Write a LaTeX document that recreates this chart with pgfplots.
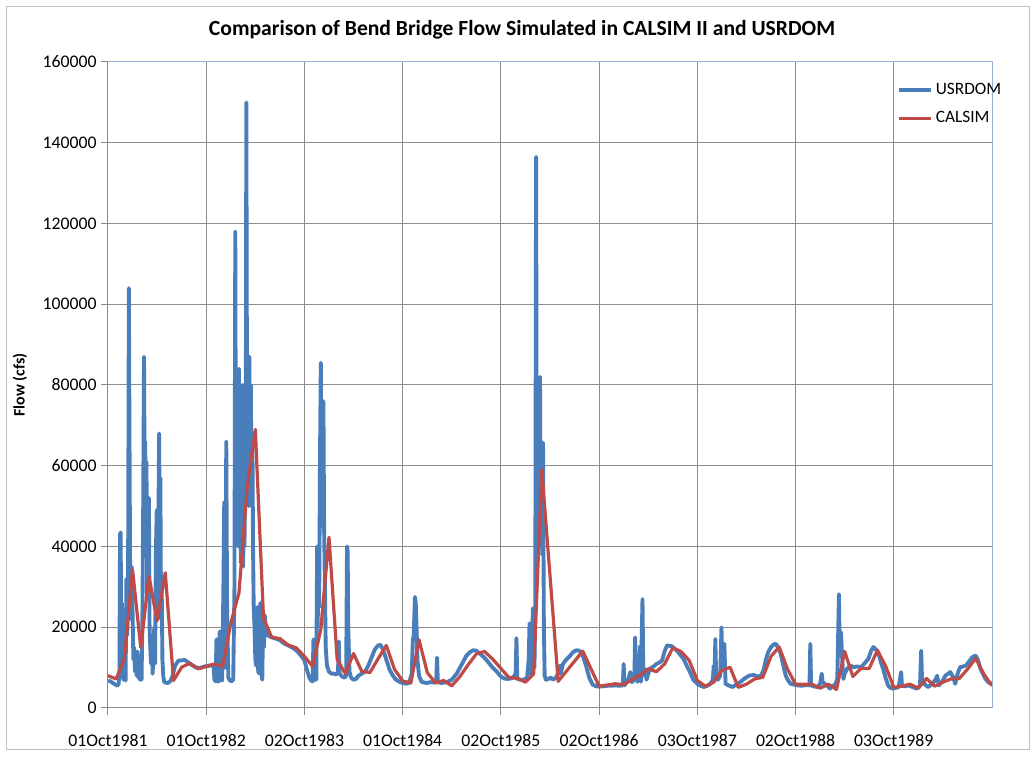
\documentclass[border=0pt]{standalone}
\usepackage{fontspec}
\setmainfont{Carlito}
\usepackage{pgfplots}
\usepackage{pgfplotstable}
\pgfplotsset{compat=1.18}
\definecolor{usr}{HTML}{4A7EBB}
\definecolor{cal}{HTML}{BE4B48}
\definecolor{gridc}{HTML}{8C8C8C}
\definecolor{bord}{HTML}{95B3D7}

\pgfplotstableread{
x y
0 8000
1 7200
2 12300
3 34200
4 15000
5 32600
6 21600
7 33500
8 6800
9 10100
10 11100
11 9700
12 10300
13 10900
14 10300
15 21000
16 28500
17 54500
18 69000
19 22200
20 17500
21 17200
22 15600
23 14900
24 12800
25 10300
26 19500
27 42300
28 12000
29 8500
30 13500
31 9100
32 8800
33 12200
34 15500
35 9600
36 6700
37 6200
38 16900
39 8800
40 6200
41 6800
42 5500
43 7800
44 10700
45 13400
46 14000
47 12100
48 9800
49 7500
50 7350
51 6400
52 8400
53 59000
55 6600
58 14100
60 5400
62 6000
63 5800
64 7000
65 8100
66 9700
67 9000
68 10900
69 14900
70 14000
71 11800
72 6800
73 5400
74 6400
75 9300
76 10100
77 5100
78 5900
79 7200
80 7600
81 12800
82 15100
83 9700
84 5900
85 5900
86 5900
87 4900
88 5900
89 4600
90 14000
91 7800
92 9800
93 9800
94 14300
95 10400
96 5100
97 5400
98 5900
99 4900
100 7300
101 5400
102 6400
103 7200
104 7300
105 9600
106 12300
107 8400
108 5500
}\calsim

\pgfplotstableread{
x y
0.0 6800
0.3 6600
0.6 6200
0.9 5800
1.15 5500
1.3 6000
1.4 9000
1.47 43000
1.55 43500
1.62 12000
1.7 26000
1.78 8000
1.9 7000
2.05 7500
2.15 6800
2.25 32000
2.35 18000
2.45 30000
2.55 104000
2.62 70000
2.7 35000
2.8 22000
2.9 35000
3.0 24000
3.1 12000
3.2 15000
3.3 9000
3.4 11000
3.5 8000
3.6 14000
3.7 7500
3.8 10000
3.9 7000
4.0 8500
4.1 7000
4.2 22000
4.3 50000
4.4 87000
4.48 55000
4.55 66000
4.62 40000
4.7 61000
4.78 28000
4.85 52000
4.92 33000
5.0 52000
5.08 20000
5.15 16000
5.25 11000
5.35 17000
5.45 8500
5.55 13000
5.65 20000
5.75 11000
5.85 38000
5.95 49000
6.05 24000
6.15 45000
6.25 68000
6.32 38000
6.4 57000
6.48 22000
6.56 30000
6.65 12000
6.75 8000
6.85 6600
7.0 6300
7.3 6200
7.6 6600
7.9 8000
8.2 10500
8.6 11700
9.0 11800
9.4 11900
9.8 11300
10.2 10700
10.6 10200
11.0 9900
11.4 10000
11.8 10300
12.2 10400
12.6 10600
12.9 10300
13.0 7000
13.15 6600
13.25 17000
13.35 7000
13.5 6500
13.65 19000
13.75 7000
13.95 6800
14.1 30000
14.2 51000
14.3 10000
14.45 66000
14.55 25000
14.7 7500
14.9 6800
15.1 6600
15.3 7000
15.45 30000
15.55 118000
15.62 60000
15.7 82000
15.78 46000
15.85 70000
15.92 40000
16.0 84000
16.08 43000
16.15 75000
16.22 36000
16.3 60000
16.38 45000
16.45 80000
16.52 35000
16.6 57000
16.68 40000
16.75 70000
16.82 50000
16.9 150000
16.97 88000
17.05 60000
17.12 80000
17.2 50000
17.28 87000
17.35 56000
17.45 80000
17.55 50000
17.65 65000
17.72 40000
17.8 25000
17.9 20000
18.0 12000
18.1 10500
18.25 25000
18.35 9000
18.5 8500
18.6 26000
18.72 9000
18.85 7000
18.95 22500
19.05 15000
19.15 23000
19.3 19000
19.5 18000
20.0 17500
20.5 17200
21.0 16800
21.5 16000
22.0 15500
22.5 15000
23.0 14300
23.5 13200
24.0 11800
24.3 9500
24.6 7500
24.8 6800
25.0 6600
25.1 17000
25.2 7000
25.45 7000
25.55 40000
25.62 20000
25.72 40000
25.8 25000
25.9 62000
26.0 85500
26.08 45000
26.15 65000
26.25 50000
26.32 76000
26.4 45000
26.5 30000
26.6 15000
26.75 10500
27.0 9000
27.3 8500
27.6 8500
27.9 8300
28.1 9000
28.2 16500
28.3 8500
28.6 7800
28.9 7500
29.1 8000
29.2 40000
29.28 39000
29.35 20000
29.5 9000
29.7 7500
30.0 7000
30.3 7200
30.6 8000
31.0 8500
31.4 9000
31.8 10500
32.2 12500
32.6 14500
33.0 15500
33.3 15600
33.6 14500
34.0 12000
34.4 9500
34.8 8000
35.2 7000
35.6 6500
36.0 6200
36.4 6000
36.8 6300
37.1 8500
37.25 17000
37.35 18000
37.5 27500
37.6 26000
37.7 20000
37.8 12000
38.0 8000
38.3 6500
38.6 6300
39.0 6200
39.4 6400
39.9 6300
40.1 6500
40.2 12500
40.3 6400
40.7 6200
41.1 6300
41.5 6500
42.0 7000
42.6 8500
43.0 10000
43.4 11500
43.8 13000
44.2 13800
44.6 14300
45.0 14200
45.4 13500
45.8 12800
46.2 12000
46.6 11000
47.0 10000
47.5 9000
48.0 7800
48.4 7300
48.8 7200
49.2 7300
49.6 7800
49.8 8500
49.9 17300
50.0 7200
50.4 7000
50.8 7000
51.2 7500
51.4 12000
51.5 21000
51.6 8500
51.8 9500
51.9 24700
52.0 12000
52.1 10000
52.2 25000
52.3 136500
52.38 60000
52.45 76000
52.52 40000
52.6 74000
52.68 45000
52.78 82000
52.86 40000
52.95 66000
53.05 38000
53.15 65700
53.25 20000
53.35 8000
53.5 7000
53.8 7200
54.1 7500
54.4 7000
54.7 7500
55.0 8500
55.2 10500
55.3 8500
55.6 11000
56.0 12000
56.4 12800
56.8 13800
57.2 14300
57.6 14200
58.0 13000
58.4 10500
58.8 7500
59.2 5800
59.6 5400
60.0 5300
60.5 5400
61.0 5500
61.5 5500
62.0 5600
62.5 5500
62.9 5600
63.0 10900
63.1 5600
63.4 6500
63.6 7200
63.8 8900
64.0 6400
64.3 7000
64.4 17500
64.5 9700
64.7 6500
64.9 8000
65.0 15300
65.1 6500
65.3 27000
65.4 8000
65.6 9700
65.8 7000
66.0 8500
66.2 9700
66.6 10200
67.0 10900
67.4 11300
67.7 11800
68.0 14000
68.3 15500
68.9 15300
69.5 14200
69.9 13200
70.3 12200
70.7 10500
71.1 8900
71.5 7000
72.0 6000
72.4 5500
72.8 5200
73.2 5500
73.6 6000
73.9 7000
74.0 10500
74.1 8000
74.2 17100
74.3 7500
74.5 7000
74.8 8000
74.95 20000
75.05 10000
75.2 10500
75.3 15900
75.45 6000
75.8 5600
76.3 5200
76.9 6000
77.3 6500
77.7 7200
78.3 8000
78.9 8200
79.3 7800
79.8 8000
80.1 9500
80.4 12200
80.7 14000
81.0 15100
81.3 15700
81.6 15900
81.9 14800
82.2 13400
82.5 10500
82.8 8000
83.1 6800
83.4 6000
83.8 5800
84.3 5600
84.8 5500
85.3 5700
85.7 5600
85.8 15900
85.9 5600
86.3 5300
86.7 5200
87.0 6000
87.2 8500
87.3 6400
87.6 6000
88.0 5200
88.2 4800
88.5 5500
88.8 5600
89.1 7200
89.3 28200
89.4 13000
89.55 18800
89.7 12200
89.85 7200
90.0 8500
90.3 9700
90.7 10500
91.1 10100
91.5 10300
92.0 10100
92.4 11000
92.9 12200
93.2 14000
93.5 15100
93.8 14500
94.1 13800
94.4 11500
94.7 9700
95.0 7500
95.3 5600
95.6 5000
95.9 4800
96.3 5000
96.6 5200
96.9 8900
97.0 5500
97.4 5400
97.8 5600
98.3 5200
98.8 4800
99.2 5500
99.35 14200
99.45 7200
99.8 5800
100.2 5200
100.7 6000
101.1 7000
101.3 8000
101.5 5600
101.9 6500
102.3 8000
102.9 8900
103.3 7500
103.5 6000
103.8 8500
104.1 10100
104.5 10300
104.8 10500
105.2 11500
105.6 12600
106.0 13000
106.3 11800
106.6 9700
106.9 8500
107.2 7200
107.6 6300
108.0 6000
}\usrdom

\begin{document}
\begin{tikzpicture}
\useasboundingbox (-81pt,-36.75pt) rectangle (696pt,531pt);
\fill[white] (-81pt,-36.75pt) rectangle (696pt,531pt);
\draw[black!25, line width=0.75pt] (-75.75pt,-31.5pt) rectangle (690.75pt,525.75pt);
\node[font=\bfseries\fontsize{16.2}{19}\selectfont] at (310.5pt,508.5pt) {Comparison of Bend Bridge Flow Simulated in CALSIM II and USRDOM};
\node[font=\bfseries\fontsize{12}{14}\selectfont, rotate=90] at (-66pt,242.25pt) {Flow (cfs)};
\begin{axis}[
  at={(0pt,0pt)}, anchor=south west,
  width=663pt, height=484.5pt, scale only axis,
  xmin=0, xmax=108, ymin=0, ymax=160000,
  xtick={0,12,24,36,48,60,72,84,96},
  xticklabels={01Oct1981,01Oct1982,02Oct1983,01Oct1984,02Oct1985,02Oct1986,03Oct1987,02Oct1988,03Oct1989},
  ytick={0,20000,40000,60000,80000,100000,120000,140000,160000},
  scaled y ticks=false,
  yticklabel style={/pgf/number format/.cd, fixed, precision=0, 1000 sep={}, assume math mode=true},
  ticklabel style={font=\fontsize{13.3}{16}\selectfont},
  xticklabel style={yshift=-11pt},
  tick align=outside, xtick pos=bottom, ytick pos=left,
  major tick length=5pt,
  tick style={gridc, line width=0.75pt},
  grid=major,
  major grid style={gridc, line width=0.75pt},
  axis line style={draw=none},
  clip=false,
  legend style={at={(0.888,0.975)}, anchor=north west, draw=none, fill=none,
    font=\fontsize{13}{15}\selectfont, row sep=7pt, cells={anchor=west}},
  legend image code/.code={\draw[#1] (0pt,0pt) -- (24pt,0pt);},
]
\addplot[usr, line width=2.9pt, line join=round] table[x=x,y=y] {\usrdom};
\addlegendentry{USRDOM}
\addplot[cal, line width=2.4pt, line join=round] table[x=x,y=y] {\calsim};
\addlegendentry{CALSIM}
\draw[gridc, line width=0.75pt] (rel axis cs:0,0) -- (rel axis cs:0,1);
\draw[gridc, line width=0.75pt] (rel axis cs:0,0) -- (rel axis cs:1,0);
\draw[bord, line width=0.75pt] (rel axis cs:0,1) -- (rel axis cs:1,1) -- (rel axis cs:1,0);
\end{axis}
\end{tikzpicture}
\end{document}
